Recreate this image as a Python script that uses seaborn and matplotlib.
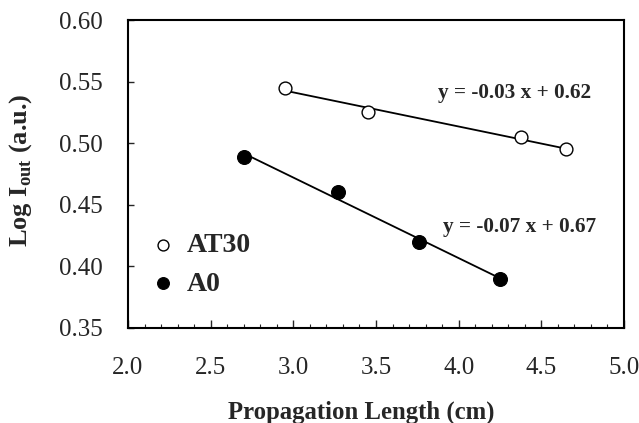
import matplotlib
matplotlib.use("Agg")
import matplotlib.pyplot as plt
import numpy as np
import pandas as pd
import seaborn as sns

# données
longueur_at30 = [2.95, 3.45, 4.38, 4.65]
log_at30 = [0.545, 0.525, 0.505, 0.495]
longueur_a0 = [2.70, 3.27, 3.76, 4.25]
log_a0 = [0.489, 0.460, 0.420, 0.390]
noms_series = ["AT30", "A0"]
equations = ["y = -0.03 x + 0.62", "y = -0.07 x + 0.67"]
x_ticks = [2.0, 2.5, 3.0, 3.5, 4.0, 4.5, 5.0]
y_ticks = [0.35, 0.40, 0.45, 0.50, 0.55, 0.60]

sns.set_style("ticks")
plt.rcParams['font.family'] = ['Liberation Serif', 'DejaVu Serif']
plt.rcParams['mathtext.fontset'] = 'custom'
plt.rcParams['mathtext.rm'] = 'Liberation Serif'
plt.rcParams['mathtext.bf'] = 'Liberation Serif:bold'

df_at30 = pd.DataFrame({"x": longueur_at30, "y": log_at30})
df_a0 = pd.DataFrame({"x": longueur_a0, "y": log_a0})

fig = plt.figure(figsize=(6.39, 4.23), dpi=100)
ax = fig.add_axes([0.2003, 0.2246, 0.7762, 0.7281])

# droites de tendance
sns.regplot(data=df_at30, x="x", y="y", scatter=False, ci=None, truncate=True,
            line_kws=dict(color="black", lw=1.3), ax=ax)
sns.regplot(data=df_a0, x="x", y="y", scatter=False, ci=None, truncate=True,
            line_kws=dict(color="black", lw=1.3), ax=ax)

# points
sns.scatterplot(data=df_at30, x="x", y="y", marker="o", s=85, facecolor="white",
                edgecolor="black", linewidth=1.0, label=noms_series[0], ax=ax, zorder=3)
sns.scatterplot(data=df_a0, x="x", y="y", marker="o", s=100, color="black",
                edgecolor="black", linewidth=0.8, label=noms_series[1], ax=ax, zorder=3)

# équations
ax.text(3.875, 0.5407, equations[0], fontsize=15.3, fontweight="bold", ha="left", va="center")
ax.text(3.906, 0.432, equations[1], fontsize=15.3, fontweight="bold", ha="left", va="center")

ax.set_xlim(2.0, 5.0)
ax.set_ylim(0.35, 0.60)
ax.set_xticks(x_ticks)
ax.set_xticklabels([f"{t:.1f}" for t in x_ticks])
ax.set_yticks(y_ticks)
ax.set_yticklabels([f"{t:.2f}" for t in y_ticks])
ax.set_xticks(np.arange(2.0, 5.01, 0.1), minor=True)
ax.tick_params(axis="x", which="major", direction="in", length=6, width=1, pad=21, labelsize=18)
ax.tick_params(axis="x", which="minor", direction="in", length=3, width=0.8)
ax.tick_params(axis="y", which="major", direction="in", length=4, width=1, pad=18, labelsize=18)

for s in ax.spines.values():
    s.set_visible(True)
    s.set_linewidth(1.5)
    s.set_color("black")

ax.set_xlabel("Propagation Length (cm)", fontsize=17.8, fontweight="bold")
ax.xaxis.set_label_coords(0.47, -0.235)
ax.set_ylabel(r"Log I$_{\mathbf{out}}$ (a.u.)", fontsize=19, fontweight="bold")
ax.yaxis.set_label_coords(-0.19, 0.513)

ax.legend(loc="upper left", bbox_to_anchor=(0.054, 0.31), frameon=False,
          prop=dict(weight="bold", size=20), handlelength=0.6, handletextpad=0.56,
          labelspacing=0.48, borderpad=0, borderaxespad=0, markerscale=0.85)

plt.savefig("out.png", dpi=100)
